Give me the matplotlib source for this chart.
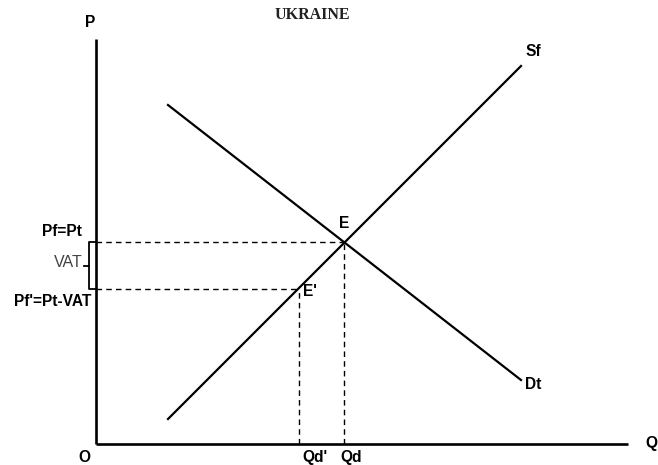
import matplotlib
matplotlib.use("Agg")
import matplotlib.pyplot as plt

# Coordinates measured from origin O, one unit per pixel of the reference
supply_q = [72, 425]
supply_p = [25, 378]
demand_q = [72, 425]
demand_p = [339, 64]

eq_q, eq_p = 248, 202          # E
eq2_q, eq2_p = 203, 155        # E'
q_max, p_max = 532, 405

fig = plt.figure(figsize=(6.58, 4.65), dpi=100)
ax = fig.add_axes([0, 0, 1, 1])
ax.set_xlim(-96, 562)
ax.set_ylim(-21, 444)
ax.axis("off")

lab = dict(fontfamily="Liberation Sans", fontweight="bold", fontsize=11.2, color="black")

# axes
ax.plot([0, 0], [0, p_max], color="black", lw=1.9, solid_capstyle="butt")
ax.plot([0, q_max], [0, 0], color="black", lw=1.9, solid_capstyle="butt")

# curves
ax.plot(supply_q, supply_p, color="black", lw=1.6)
ax.plot(demand_q, demand_p, color="black", lw=1.6)

# dashed guides
dash = dict(color="black", lw=1.0, linestyle=(0, (4, 3)))
ax.plot([0, eq_q], [eq_p, eq_p], **dash)
ax.plot([eq_q, eq_q], [0, eq_p], **dash)
ax.plot([0, eq2_q], [eq2_p, eq2_p], **dash)
ax.plot([eq2_q, eq2_q], [0, eq2_p], **dash)

# VAT bracket
ax.plot([0, -7, -7, 0], [eq_p, eq_p, eq2_p, eq2_p], color="black", lw=1.3)
ax.plot([-12, -7], [(eq_p + eq2_p) / 2] * 2, color="black", lw=1.3)
ax.text(-13, (eq_p + eq2_p) / 2 + 3, "VAT", ha="right", va="center",
        fontfamily="Liberation Sans", fontsize=11.5, color="#444444")

# labels
ax.text(-14, 212, "Pf=Pt", ha="right", va="center", **lab)
ax.text(-5, 142, "Pf'=Pt-VAT", ha="right", va="center", **lab)
ax.text(-6, 421, "P", ha="center", va="center", **lab)
ax.text(-12, -13, "O", ha="center", va="center", **lab)
ax.text(561, 1, "Q", ha="right", va="center", **lab)
ax.text(eq2_q + 16, -13, "Qd'", ha="center", va="center", **lab)
ax.text(eq_q + 7, -13, "Qd", ha="center", va="center", **lab)
ax.text(eq_q, 220, "E", ha="center", va="center", **lab)
ax.text(eq2_q + 11, 152, "E'", ha="center", va="center", **lab)
ax.text(429, 392, "Sf", ha="left", va="center", **lab)
ax.text(429, 60, "Dt", ha="left", va="center", **lab)

ax.text(216, 429, "UKRAINE", ha="center", va="center",
        fontfamily="Liberation Serif", fontweight="bold", fontsize=11.5, color="#222222")

fig.savefig("out.png", dpi=100)
